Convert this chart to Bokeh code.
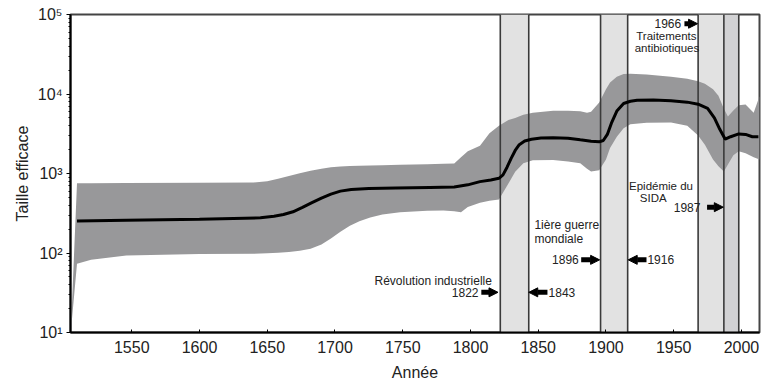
from bokeh.plotting import figure
from bokeh.models import (Range1d, FixedTicker, CustomJSTickFormatter, Arrow,
                          NormalHead, Label)
from bokeh.embed import file_html
from bokeh.resources import INLINE

# ---------------- data ----------------
x_ticks = [1550, 1600, 1650, 1700, 1750, 1800, 1850, 1900, 1950, 2000]
y_ticks = [10, 100, 1000, 10000, 100000]

med_years = [1509.6, 1546, 1600, 1645, 1655, 1662, 1669, 1676, 1683, 1690,
             1697, 1704, 1712, 1725, 1745, 1770, 1788, 1798, 1807, 1815, 1821,
             1824, 1827, 1830, 1833, 1836, 1840, 1845, 1852, 1861, 1872, 1881,
             1889, 1895, 1898, 1901, 1904, 1908, 1913, 1918, 1923, 1935, 1948,
             1960, 1968, 1975, 1980, 1984, 1988, 1992, 1998, 2003, 2008, 2012.5]
med_values = [252, 258, 265, 277, 290, 305, 330, 375, 430, 490,
              550, 600, 630, 648, 658, 668, 675, 720, 790, 830, 870,
              960, 1200, 1550, 1950, 2300, 2560, 2700, 2790, 2820, 2780, 2650,
              2550, 2500, 2600, 3100, 4300, 6100, 7600, 8100, 8350, 8400, 8200,
              7900, 7450, 6600, 5000, 3600, 2700, 2900, 3150, 3100, 2900, 2900]

ci_years = [1505, 1509.6, 1520, 1546, 1600, 1640, 1650, 1658, 1666, 1674, 1682,
            1690, 1697, 1704, 1711, 1718, 1726, 1735, 1748, 1768, 1780, 1788,
            1793, 1798, 1807, 1814, 1821, 1828, 1833, 1839, 1846, 1861, 1872,
            1881, 1886, 1889, 1895, 1900, 1903, 1908, 1913, 1918, 1930, 1948,
            1960, 1968, 1973, 1979, 1983, 1987, 1990, 1994, 1998, 2003, 2009,
            2013.3]
ci_lower = [10, 73, 82, 93, 97, 98, 99, 101, 103, 107, 113,
            128, 152, 185, 220, 250, 280, 305, 325, 340, 343, 335,
            325, 380, 430, 455, 470, 750, 1050, 1350, 1470, 1480, 1420,
            1350, 1150, 1060, 1100, 1500, 2100, 2900, 3700, 4160, 4350, 4390,
            4000, 3000, 2300, 1500, 1230, 1060, 1300, 1700, 1900, 1800, 1600,
            1500]
ci_upper = [10, 755, 755, 758, 765, 770, 800, 860, 930, 1010, 1080,
            1150, 1200, 1225, 1240, 1250, 1260, 1270, 1290, 1310, 1325, 1340,
            1600, 1900, 2240, 3200, 4000, 4700, 5000, 5500, 5800, 6150, 6150,
            6050, 5800, 6000, 7800, 11500, 14000, 16500, 17800, 18000, 17600, 16500,
            15500, 14500, 13500, 11500, 9500, 6500, 5200, 6200, 7200, 7400, 5800,
            9400]

period_start = [1822, 1896, 1968, 1987]
period_end = [1843, 1916, 1987, 1998]
period_color = ["#e2e2e2", "#e2e2e2", "#e2e2e2", "#d2d2d4"]

# ---------------- figure ----------------
FONT = "Liberation Sans"
p = figure(frame_width=689, frame_height=318,
           x_range=Range1d(1504.8, 2013.3), y_range=Range1d(10, 100000),
           y_axis_type="log", output_backend="svg", toolbar_location=None,
           min_border_left=70, min_border_right=5, min_border_top=14,
           min_border_bottom=50)
p.xgrid.visible = False
p.ygrid.visible = False
p.outline_line_color = "#444444"
p.outline_line_width = 2
p.background_fill_color = "white"
p.border_fill_color = "white"

# period shaded bands (under the credible interval)
p.quad(left=period_start, right=period_end, bottom=10, top=100000,
       fill_color=period_color, line_color=None)

# credible interval
p.varea(x=ci_years, y1=ci_lower, y2=ci_upper, fill_color="#98989a")

# period boundary lines
bounds = sorted(set(period_start + period_end))
p.segment(x0=bounds, x1=bounds, y0=10, y1=100000, line_color="#3a3a3a",
          line_width=1.6)

# median
p.line(med_years, med_values, line_color="black", line_width=3)

# ---------------- axes ----------------
p.xaxis.ticker = FixedTicker(ticks=x_ticks)
minor = [m * 10 ** e for e in range(1, 5) for m in range(2, 10)]
p.yaxis.ticker = FixedTicker(ticks=y_ticks, minor_ticks=minor)
p.yaxis.formatter = CustomJSTickFormatter(code="""
const sup = {'1':'\u00b9','2':'\u00b2','3':'\u00b3','4':'\u2074','5':'\u2075'};
const e = Math.round(Math.log10(tick));
return '10' + sup[String(e)];
""")
for ax in (p.xaxis[0], p.yaxis[0]):
    ax.axis_line_width = 2
    ax.axis_line_color = "black"
    ax.major_tick_line_color = "black"
    ax.major_label_text_font = FONT
    ax.major_label_text_font_size = "16px"
    ax.major_label_text_color = "#222222"
    ax.axis_label_text_font = FONT
    ax.axis_label_text_font_size = "16px"
    ax.axis_label_text_font_style = "normal"
    ax.axis_label_text_color = "#222222"

p.xaxis.axis_label = "Année"
p.xaxis.major_tick_in = 3
p.xaxis.major_tick_out = 0
p.xaxis.minor_tick_line_color = None
p.xaxis.major_label_standoff = 8
p.xaxis.axis_label_standoff = 8

p.yaxis.axis_label = "Taille efficace"
p.yaxis.major_tick_in = 0
p.yaxis.major_tick_out = 4
p.yaxis.minor_tick_in = 0
p.yaxis.minor_tick_out = 2
p.yaxis.minor_tick_line_color = "black"
p.yaxis.major_label_standoff = 4
p.yaxis.axis_label_standoff = 4

# ---------------- annotations ----------------
def lab(x, y, text, align, size="12px"):
    p.add_layout(Label(x=x, y=y, text=text, text_align=align,
                       text_baseline="middle", text_font=FONT,
                       text_font_size=size, text_color="#222222"))

def arr(x0, x1, y):
    p.add_layout(Arrow(x_start=x0, y_start=y, x_end=x1, y_end=y,
                       line_width=5, line_color="black",
                       end=NormalHead(size=9, fill_color="black",
                                      line_color="black", line_width=1)))

lab(1815.8, 45, "Révolution industrielle", "right")
lab(1805.9, 32, "1822", "right")
arr(1808.0, 1820.3, 32)
lab(1857.6, 32, "1843", "left")
arr(1856.8, 1843.0, 32)

lab(1847.2, 222, "1ière guerre", "left")
lab(1847.2, 152, "mondiale", "left")
lab(1879.9, 82, "1896", "right")
arr(1881.7, 1895.3, 82)
lab(1930.6, 82, "1916", "left")
arr(1929.9, 1916.4, 82)

lab(1917.0, 692, "Epidémie du", "left", "11.5px")
lab(1925.0, 485, "SIDA", "left", "11.5px")
lab(1969.7, 377, "1987", "right")
arr(1974.6, 1986.6, 377)

lab(1955.5, 76600, "1966", "right")
arr(1957.9, 1967.6, 76600)
lab(1944.6, 53200, "Traitements", "center", "11.5px")
lab(1945.0, 37600, "antibiotiques", "center", "11.5px")

open("out.html", "w").write(file_html(p, INLINE))
